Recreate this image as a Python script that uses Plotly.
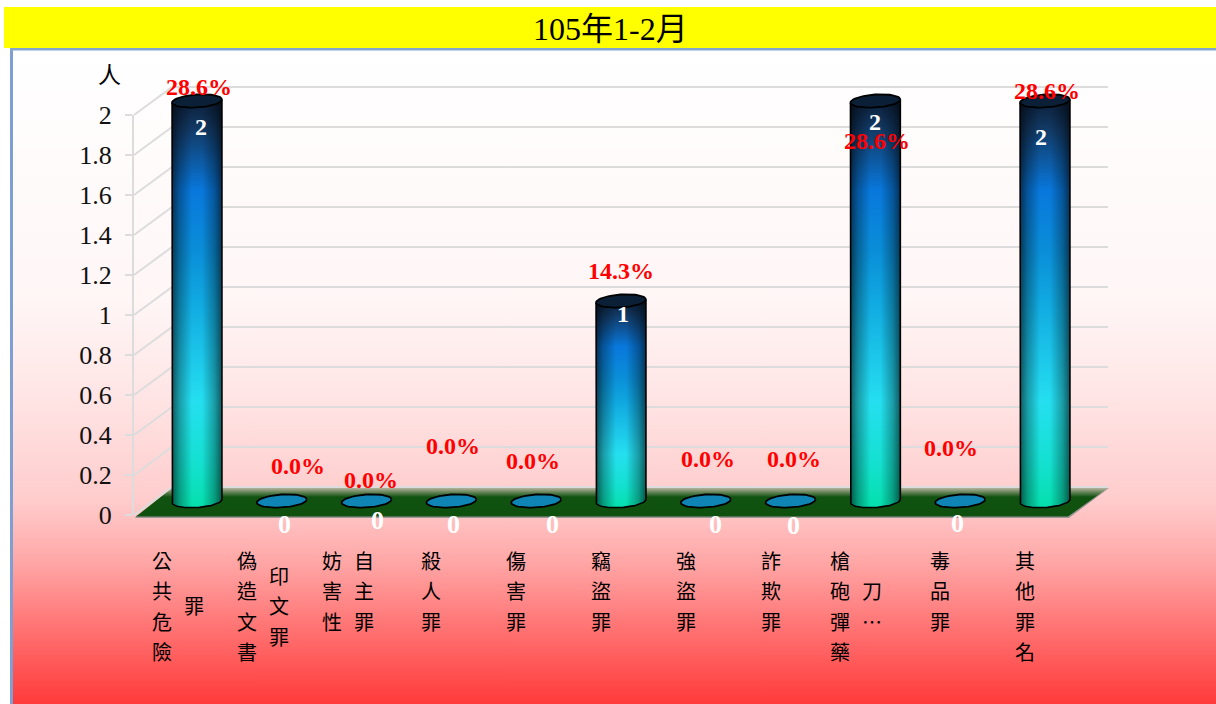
import base64, math
import plotly.graph_objects as go

# ---------- data ----------
categories = ["公共危險罪", "偽造文書印文罪", "妨害性自主罪", "殺人罪", "傷害罪", "竊盜罪",
              "強盜罪", "詐欺罪", "槍砲彈藥刀…", "毒品罪", "其他罪名"]
first_column_len = [4, 4, 3, 3, 3, 3, 3, 3, 4, 3, 4]
counts = [2, 0, 0, 0, 0, 1, 0, 0, 2, 0, 2]
shares = [28.6, 0.0, 0.0, 0.0, 0.0, 14.3, 0.0, 0.0, 28.6, 0.0, 28.6]
y_ticks = [0, 0.2, 0.4, 0.6, 0.8, 1, 1.2, 1.4, 1.6, 1.8, 2]
y_tick_text = ["0", "0.2", "0.4", "0.6", "0.8", "1", "1.2", "1.4", "1.6", "1.8", "2"]
title_text = "105年1-2月"
unit_text = "人"

# ---------- geometry ----------
W, H = 1216, 704
def X(p): return p / W
def Y(p): return 1 - p / H
def b64svg(s): return "data:image/svg+xml;base64," + base64.b64encode(s.encode()).decode()

SLOT = 84.8          # px per category
X0 = 197 - SLOT / 2  # left of data x axis
UNIT = 200           # px per unit of y
BASE = 501           # px of y=0 on data axis
BAR_W = 50
A, B, TILT = 25, 6.5, math.radians(-4)

pct_dx = [2, 16, 4, 2, -3, 0, 2, 3, 2, -9, 2]
pct_dy = [-14, -35, -21, -55, -40, -30, -42, -42, 40, -53, -10]
cnt_dx = [4, 3, 11, 2, 16, 2, 10, 3, 0, -3, -4]
cnt_dy = [26, 23, 19, 23, 23, 13, 23, 24, 21, 22, 36]

def arc(t0, t1, n=40):
    pts = []
    for k in range(n + 1):
        t = t0 + (t1 - t0) * k / n
        ex, ey = A * math.cos(t), B * math.sin(t)
        pts.append((ex * math.cos(TILT) - ey * math.sin(TILT),
                    ex * math.sin(TILT) + ey * math.cos(TILT)))
    return pts

# ---------- page background as one vector image ----------
bg_svg = f'''<svg xmlns="http://www.w3.org/2000/svg" width="{W}" height="{H}" viewBox="0 0 {W} {H}">
<defs>
<linearGradient id="g" x1="0" y1="48" x2="0" y2="704" gradientUnits="userSpaceOnUse">
<stop offset="0" stop-color="#ffffff"/><stop offset="0.384" stop-color="#fff6f6"/>
<stop offset="0.537" stop-color="#ffe4e4"/><stop offset="0.69" stop-color="#ffcccc"/>
<stop offset="0.78" stop-color="#ffa8a8"/><stop offset="0.87" stop-color="#ff7a7a"/>
<stop offset="1" stop-color="#ff3a3a"/></linearGradient>
<linearGradient id="f" x1="0" y1="488" x2="0" y2="516" gradientUnits="userSpaceOnUse">
<stop offset="0" stop-color="#b4b29c"/><stop offset="0.32" stop-color="#105210"/>
<stop offset="1" stop-color="#0f500f"/></linearGradient>
</defs>
<rect x="0" y="0" width="{W}" height="{H}" fill="#ffffff"/>
<rect x="11" y="48" width="{W}" height="656" fill="url(#g)"/>
<rect x="10" y="48" width="3" height="656" fill="#7f9fd2"/>
<rect x="10" y="48" width="{W}" height="2.5" fill="#85a5cf"/>
<polygon points="135,518 1069,518 1109,488 1108,488 1068,515 137,515" fill="#9b9696"/>
<polygon points="136,516.5 1068,516.5 1108,488 172,488" fill="url(#f)"/>
</svg>'''

images = [dict(source=b64svg(bg_svg), xref="paper", yref="paper", x=0, y=1, sizex=1, sizey=1,
               xanchor="left", yanchor="top", sizing="stretch", layer="below")]

# ---------- cylinder bodies, one gradient image per nonzero value ----------
EXTRA = 9  # px below the base kept for the curved bottom
def cylinder_svg(v):
    h = v * UNIT
    total = h + EXTRA
    low = arc(math.pi, 0)  # left -> bottom -> right
    path = f"M0,0 L{BAR_W},0 "
    for ex, ey in reversed(low):
        path += f"L{A + ex:.2f},{h + ey:.2f} "
    path += "Z"
    return f'''<svg xmlns="http://www.w3.org/2000/svg" width="{BAR_W}" height="{total}" viewBox="0 0 {BAR_W} {total}" preserveAspectRatio="none">
<defs>
<linearGradient id="v" x1="0" y1="0" x2="0" y2="1">
<stop offset="0" stop-color="#0c1f38"/><stop offset="0.07" stop-color="#123a66"/>
<stop offset="0.22" stop-color="#0878dc"/><stop offset="0.37" stop-color="#0a8ed8"/>
<stop offset="0.49" stop-color="#10a8e0"/><stop offset="0.74" stop-color="#25dff0"/>
<stop offset="0.89" stop-color="#14e0d0"/><stop offset="1" stop-color="#04e0ac"/></linearGradient>
<linearGradient id="h" x1="0" y1="0" x2="1" y2="0">
<stop offset="0" stop-color="#000" stop-opacity="0.6"/><stop offset="0.15" stop-color="#000" stop-opacity="0.3"/>
<stop offset="0.4" stop-color="#000" stop-opacity="0"/><stop offset="0.6" stop-color="#000" stop-opacity="0"/>
<stop offset="0.85" stop-color="#000" stop-opacity="0.3"/><stop offset="1" stop-color="#000" stop-opacity="0.6"/></linearGradient>
</defs>
<path d="{path}" fill="url(#v)"/><path d="{path}" fill="url(#h)"/>
</svg>'''

for i, v in enumerate(counts):
    if v > 0:
        images.append(dict(source=b64svg(cylinder_svg(v)), xref="x3", yref="y3",
                           x=i - BAR_W / SLOT / 2, y=v,
                           sizex=BAR_W / SLOT, sizey=v + EXTRA / UNIT,
                           xanchor="left", yanchor="top", sizing="stretch", layer="below"))

fig = go.Figure()

# empty traces keep the wall and front-axis subplots alive
fig.add_trace(go.Scatter(x=[], y=[], xaxis="x", yaxis="y", showlegend=False, hoverinfo="skip"))
fig.add_trace(go.Scatter(x=[], y=[], xaxis="x2", yaxis="y2", showlegend=False, hoverinfo="skip"))

idx = list(range(len(categories)))
fig.add_trace(go.Bar(x=idx, y=counts, width=BAR_W / SLOT, xaxis="x3", yaxis="y3",
                     marker=dict(color="rgba(0,0,0,0)", line=dict(width=0)),
                     hovertext=categories, hoverinfo="text+y", showlegend=False))

# outlines and caps
for i, v in enumerate(counts):
    if v > 0:
        lo = arc(math.pi, 0)
        xs = [i + lo[0][0] / SLOT]
        ys = [v - lo[0][1] / UNIT]
        for ex, ey in lo:
            xs.append(i + ex / SLOT); ys.append(-ey / UNIT)
        xs.append(i + lo[-1][0] / SLOT); ys.append(v - lo[-1][1] / UNIT)
        fig.add_trace(go.Scatter(x=xs, y=ys, mode="lines", xaxis="x3", yaxis="y3", cliponaxis=False,
                                 line=dict(color="#000000", width=1.6), hoverinfo="skip", showlegend=False))
    cap = arc(0, 2 * math.pi, 60)
    fig.add_trace(go.Scatter(x=[i + p[0] / SLOT for p in cap], y=[v - p[1] / UNIT for p in cap],
                             mode="lines", fill="toself", xaxis="x3", yaxis="y3", cliponaxis=False,
                             fillcolor="#0b2036" if v > 0 else "#0e85b5",
                             line=dict(color="#000000", width=1.8), hoverinfo="skip", showlegend=False))

# ---------- annotations ----------
ann = []
SERIF = "Liberation Serif"
for i, (v, s) in enumerate(zip(counts, shares)):
    ann.append(dict(x=i, y=v, xref="x3", yref="y3", text=f"<b>{v}</b>", showarrow=False,
                    xanchor="center", yanchor="middle", xshift=cnt_dx[i], yshift=-cnt_dy[i],
                    font=dict(family=SERIF, size=24 if v else 26, color="#ffffff")))
    ann.append(dict(x=i, y=v, xref="x3", yref="y3", text=f"<b>{s:.1f}%</b>", showarrow=False,
                    xanchor="center", yanchor="middle", xshift=pct_dx[i], yshift=-pct_dy[i],
                    font=dict(family=SERIF, size=24, color="#ff0000")))

CJK = "Noto Sans CJK TC"
LINE = 30.5
for i, (name, n1) in enumerate(zip(categories, first_column_len)):
    col1, col2 = name[:n1], name[n1:]
    shift1 = -35 if col2 else -20
    for k, ch in enumerate(col1):
        ann.append(dict(x=i, y=Y(560 + k * LINE), xref="x3", yref="paper", text=ch, showarrow=False,
                        xanchor="center", yanchor="middle", xshift=shift1,
                        font=dict(family=CJK, size=20, color="#000000")))
    start2 = 560 + (len(col1) - len(col2)) * LINE / 2
    for k, ch in enumerate(col2):
        ann.append(dict(x=i, y=Y(start2 + k * LINE), xref="x3", yref="paper", text=ch, showarrow=False,
                        xanchor="center", yanchor="middle", xshift=-3,
                        font=dict(family=CJK, size=20, color="#000000")))

ann.append(dict(x=X(610), y=Y(29), xref="paper", yref="paper", text=title_text, showarrow=False,
                xanchor="center", yanchor="middle",
                font=dict(family=SERIF + ", " + CJK, size=32, color="#000000")))
ann.append(dict(x=X(109), y=Y(73), xref="paper", yref="paper", text=unit_text, showarrow=False,
                xanchor="center", yanchor="middle",
                font=dict(family=CJK, size=23, color="#000000")))

# ---------- chrome shapes ----------
shapes = [dict(type="rect", xref="paper", yref="paper", x0=X(4), x1=1, y0=Y(48), y1=Y(7),
               fillcolor="#ffff00", line=dict(width=0), layer="below")]
for t in y_ticks:
    shapes.append(dict(type="line", xref="paper", yref="paper",
                       x0=X(134), y0=Y(515 - UNIT * t), x1=X(172), y1=Y(487 - UNIT * t),
                       line=dict(color="#dcdcdc", width=2), layer="below"))

hidden_x = dict(visible=False, showgrid=False, zeroline=False, automargin=False)
fig.update_layout(
    template="none",
    width=W, height=H, autosize=False, margin=dict(l=0, r=0, t=0, b=0, pad=0),
    paper_bgcolor="#ffffff", plot_bgcolor="rgba(0,0,0,0)", showlegend=False,
    images=images, shapes=shapes, annotations=ann, barmode="overlay",
    xaxis=dict(domain=[X(172), X(1108)], range=[0, 1], anchor="y", **hidden_x),
    yaxis=dict(domain=[Y(489), Y(85)], range=[-0.01, 2.01], anchor="x", tickvals=y_ticks, automargin=False,
               showticklabels=False, ticks="", showgrid=True, gridcolor="#dcdcdc", gridwidth=2,
               zeroline=False, showline=False),
    xaxis2=dict(domain=[X(134), X(1070)], range=[0, 1], anchor="y2", **hidden_x),
    yaxis2=dict(domain=[Y(515), Y(115)], range=[0, 2], anchor="x2", tickvals=y_ticks, automargin=False,
                ticktext=y_tick_text, showgrid=False, zeroline=False, showline=True,
                linecolor="#dcdcdc", linewidth=2, ticks="outside", ticklen=7, tickcolor="#dcdcdc",
                tickwidth=2, ticklabelstandoff=8,
                tickfont=dict(family=SERIF, size=26, color="#111111")),
    xaxis3=dict(domain=[X(X0), X(X0 + SLOT * len(categories))], range=[-0.5, len(categories) - 0.5],
                anchor="y3", type="linear", tickvals=idx, ticktext=categories, **hidden_x),
    yaxis3=dict(domain=[Y(BASE + 0.05 * UNIT), Y(BASE - 2.05 * UNIT)], range=[-0.05, 2.05], anchor="x3",
                visible=False, showgrid=False, zeroline=False, automargin=False),
)

fig.write_html("out.html", config=dict(displayModeBar=False),
               post_script="document.body.style.margin='0';document.body.style.overflow='hidden';")
